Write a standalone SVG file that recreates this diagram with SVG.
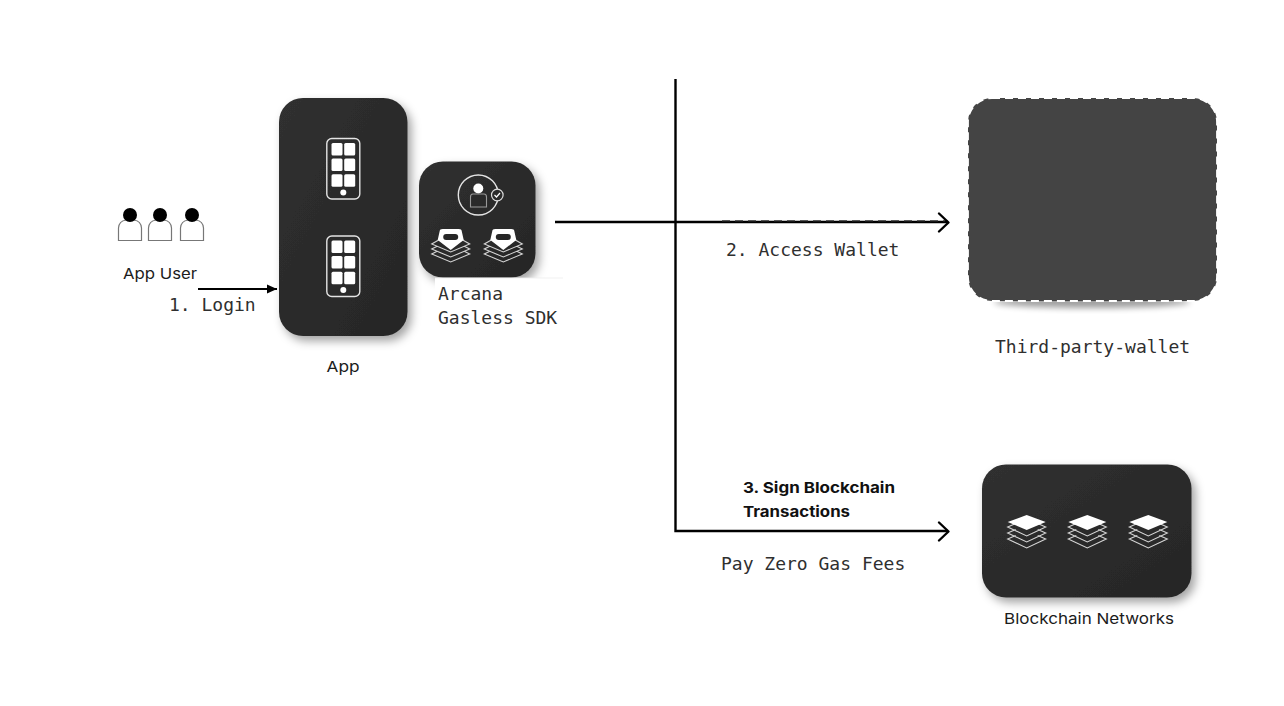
<svg xmlns="http://www.w3.org/2000/svg" width="1284" height="706" viewBox="0 0 1284 706">
<style>
.mono{font-family:"DejaVu Sans Mono","Liberation Mono",monospace;font-size:18px;fill:#2f2f2f}
.sans{font-family:"Inter","Open Sans","Liberation Sans",sans-serif;font-size:15px;fill:#1c1c1c}
.bold{font-family:"Inter","Open Sans","Liberation Sans",sans-serif;font-size:15px;font-weight:700;fill:#111}
.conn{fill:none;stroke:#000;stroke-width:2.4}
.card{fill:url(#cardFill);filter:url(#shadow)}
.out{fill:none;stroke:#e4e4e4;stroke-width:1.4}
.thin{fill:none;stroke:#d4d4d4;stroke-width:1.1}
.body{fill:#fff;stroke:#777;stroke-width:1.2}
</style>
<defs>
<linearGradient id="cardFill" x1="0" y1="0" x2="1" y2="1"><stop offset="0" stop-color="#303030"/><stop offset="1" stop-color="#262626"/></linearGradient>
<filter id="shadow" x="-20%" y="-20%" width="150%" height="150%"><feDropShadow dx="4" dy="5" stdDeviation="5" flood-color="#000" flood-opacity="0.36"/></filter>
<filter id="soft" x="-20%" y="-50%" width="140%" height="200%"><feGaussianBlur stdDeviation="3"/></filter>
<marker id="tri" markerUnits="userSpaceOnUse" markerWidth="11" markerHeight="11" refX="10" refY="5.500" orient="auto"><path d="M0 1 10 5.500 0 10z" fill="#000"/></marker>
<g id="phone">
<rect x="326.800" y="138.500" width="33" height="60.500" rx="5" class="out"/>
<g fill="#fff">
<rect x="331.500" y="143" width="11" height="12.500" rx="1.500"/><rect x="344.200" y="143" width="11" height="12.500" rx="1.500"/>
<rect x="331.500" y="158.600" width="11" height="12.500" rx="1.500"/><rect x="344.200" y="158.600" width="11" height="12.500" rx="1.500"/>
<rect x="331.500" y="174.200" width="11" height="12.500" rx="1.500"/><rect x="344.200" y="174.200" width="11" height="12.500" rx="1.500"/>
<circle cx="343.300" cy="192.600" r="3"/>
</g>
</g>
<g id="layers">
<path d="M-11 0.500-19 4 0 13 19 4 11 0.500M-11 6.500-19 10 0 19 19 10 11 6.500M-11 12.500-19 16 0 25 19 16 11 12.500" class="thin"/>
<path d="M-19 -1 0 -8 19 -1 0 7z" fill="#fff"/>
</g>
<g id="sdkLayers">
<path d="M-12 -6-19 -2 0 6 19 -2 12 -6M-14 0.500-19 3 0 11 19 3 14 0.500M-14 5.500-19 8 0 16 19 8 14 5.500" class="thin"/>
<path d="M-11 -15Q-11 -17-8 -17H8Q11 -17 11 -15L13 -6 0 4-13 -6z" fill="#fff"/>
<rect x="-7.500" y="-12" width="15" height="6" rx="3" fill="#262626"/>
</g>
</defs>
<rect width="1284" height="706" fill="#fff"/>

<g id="app-user">
<path class="body" d="M118.500 240.500V228Q119 221 126 220H134Q141 221 141.500 228V240.500z"/><circle cx="130" cy="215" r="7"/>
<path class="body" d="M148.500 240.500V228Q149 221 156 220H164Q171 221 171.500 228V240.500z"/><circle cx="160" cy="215" r="7"/>
<path class="body" d="M180.500 240.500V228Q181 221 188 220H196Q203 221 203.500 228V240.500z"/><circle cx="192" cy="215" r="7"/>
<text class="sans" x="160" y="279" text-anchor="middle" textLength="74" lengthAdjust="spacingAndGlyphs">App User</text>
</g>

<g id="app">
<rect class="card" x="279" y="98" width="128.500" height="238" rx="24"/>
<use href="#phone"/>
<use href="#phone" y="97.500"/>
<text class="sans" x="343" y="372" text-anchor="middle" textLength="33" lengthAdjust="spacingAndGlyphs">App</text>
</g>

<g id="sdk">
<rect class="card" x="419" y="161.500" width="116.500" height="116" rx="24"/>
<rect x="435" y="278" width="128" height="16" fill="#fff"/>
<path d="M435 278H563" stroke="#eee" stroke-width="0.800" fill="none"/>
<circle cx="478.300" cy="195" r="20" class="out"/>
<circle cx="478.300" cy="188.500" r="5" fill="#fff"/>
<path d="M470.500 207V197Q470.500 194 473 194H484Q486.500 194 486.500 197V207z" fill="none" stroke="#999" stroke-width="1.100"/>
<circle cx="497.300" cy="195" r="5.800" fill="#2a2a2a" stroke="#ddd" stroke-width="1.200"/>
<path d="M494.500 195 496.500 197 500 193" fill="none" stroke="#fff" stroke-width="1.200"/>
<use href="#sdkLayers" x="450.700" y="246"/>
<use href="#sdkLayers" x="503.300" y="246"/>
<text class="mono" x="438" y="300">Arcana</text>
<text class="mono" x="438" y="324">Gasless SDK</text>
</g>

<g id="third-party-wallet">
<ellipse cx="1092" cy="302" rx="98" ry="6" fill="#000" opacity="0.38" filter="url(#soft)"/>
<rect x="968" y="98" width="249" height="203" rx="24" fill="#444" stroke="#fff" stroke-width="1.800" stroke-dasharray="8 5"/>
<text class="mono" x="995" y="353">Third-party-wallet</text>
</g>

<g id="blockchain-networks">
<rect class="card" x="982" y="464.500" width="209.500" height="133" rx="24"/>
<use href="#layers" x="1026.700" y="523"/>
<use href="#layers" x="1087.300" y="523"/>
<use href="#layers" x="1148.300" y="523"/>
<text class="sans" x="1089" y="624" text-anchor="middle" textLength="170" lengthAdjust="spacingAndGlyphs">Blockchain Networks</text>
</g>

<g id="connectors">
<path class="conn" d="M675.500 79V531H948"/>
<path class="conn" d="M939 522.500 948.500 531.500 939 540.500" stroke-linecap="round" stroke-linejoin="round"/>
<path class="conn" d="M555 222H948"/>
<path d="M722 220.800H945" fill="none" stroke="#333" stroke-width="1.200" stroke-dasharray="8 5"/>
<path class="conn" d="M939 213.500 948.500 222.500 939 231.500" stroke-linecap="round" stroke-linejoin="round"/>
<path d="M198 289H277" fill="none" stroke="#000" stroke-width="2" marker-end="url(#tri)"/>
</g>

<g id="labels">
<text class="mono" x="169" y="311">1. Login</text>
<text class="mono" x="726" y="256">2. Access Wallet</text>
<text class="bold" x="743" y="493" textLength="152" lengthAdjust="spacingAndGlyphs">3. Sign Blockchain</text>
<text class="bold" x="743" y="517" textLength="107" lengthAdjust="spacingAndGlyphs">Transactions</text>
<text class="mono" x="721" y="570">Pay Zero Gas Fees</text>
</g>
</svg>
